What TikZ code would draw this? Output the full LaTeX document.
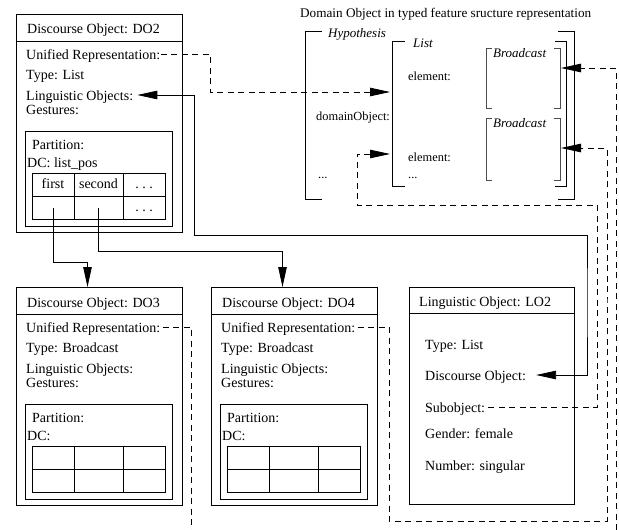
\documentclass[tikz,border=0pt]{standalone}
\usepackage{fontspec}
\setmainfont{Liberation Serif}
\usetikzlibrary{arrows.meta}

\tikzset{
  box/.style={draw,line width=0.8pt},
  brak/.style={line width=0.8pt},
  txt/.style={anchor=base west,inner sep=0pt,font=\fontsize{14}{16}\selectfont,
    text height=12pt,text depth=2pt},
  cell/.style={anchor=center,inner sep=0pt,font=\fontsize{14}{16}\selectfont,
    text height=10pt,text depth=2pt},
  avm/.style={anchor=base west,inner sep=0pt,font=\fontsize{12.4}{14}\selectfont},
  avmtype/.style={anchor=base west,inner sep=0pt,font=\fontsize{13}{15}\selectfont\itshape},
  link/.style={line width=0.8pt},
  dlink/.style={line width=0.8pt,dash pattern=on 6pt off 4.5pt},
  tip/.style={-{Triangle[length=20pt,width=8.5pt]}},
  tips/.style={{Triangle[length=20pt,width=8.5pt]}-{Triangle[length=20pt,width=8.5pt]}},
}

% discourse object box: name, origin, id, type, dc
\newcommand{\discobj}[5]{%
  \begin{scope}[shift={(#2)}]
    \draw[box] (0,0) rectangle (166,218);
    \draw[box] (0,27) -- (166,27);
    \node[txt] (#1t) at (11,20) {Discourse Object: #3};
    \node[txt] (#1ur) at (10,45) {Unified Representation:};
    \node[txt] (#1ty) at (10,65) {Type: #4};
    \node[txt] (#1lo) at (10,86) {Linguistic Objects:};
    \node[txt] (#1ge) at (10,100) {Gestures:};
    % partition and its table
    \draw[box] (9,117) rectangle (156,212);
    \node[txt] (#1pa) at (16,135) {Partition:};
    \node[txt] (#1dc) at (11,153) {DC: #5};
    \draw[box] (16,159) rectangle (149,205);
    \draw[box] (16,182) -- (149,182);
    \foreach \cx in {58,107} \draw[box] (\cx,159) -- (\cx,205);
    \coordinate (#1a1) at (37,170.5);
    \coordinate (#1a2) at (82.5,170.5);
    \coordinate (#1a3) at (128,170.5);
    \coordinate (#1b1) at (37,193.5);
    \coordinate (#1b2) at (82.5,193.5);
    \coordinate (#1b3) at (128,193.5);
    \coordinate (#1in) at (71.5,0);
  \end{scope}}

\begin{document}
\begin{tikzpicture}[x=1pt,y=-1pt]
\useasboundingbox (0,0) rectangle (619,530);

%discourse objects
\discobj{do2}{16,14}{DO2}{List}{list\_pos}
\discobj{do3}{16,287}{DO3}{Broadcast}{}
\discobj{do4}{211,287}{DO4}{Broadcast}{}

\node[cell] (c1) at (do2a1) {first};
\node[cell] (c2) at (do2a2) {second};
\node[cell] (c3) at (do2a3) {.\ .\ .};
\node[cell] (c4) at (do2b3) {.\ .\ .};

%linguistic object
\draw[box] (409,287) rectangle (574,504);
\draw[box] (409,313) -- (574,313);
\node[txt] (lo2t) at (419,306) {Linguistic Object: LO2};
\node[txt] (lo2ty) at (425,349) {Type: List};
\node[txt] (lo2do) at (425,380) {Discourse Object:};
\node[txt] (lo2sub) at (425,412) {Subobject:};
\node[txt] (lo2ge) at (425,438) {Gender: female};
\node[txt] (lo2nu) at (425,470) {Number: singular};

%domain object as feature structure
\node[avm,font=\fontsize{13.2}{15}\selectfont] (dotitle) at (300,17)
  {Domain Object in typed feature sructure representation};

\draw[brak] (322,31) -- (305,31) -- (305,199) -- (322,199); %hypothesis
\draw[brak] (558,31) -- (574,31) -- (574,199) -- (558,199);
\node[avmtype] (hyp) at (328,37) {Hypothesis};
\node[avm] (dobj) at (316,120) {domainObject:};
\node[avm] (hdots) at (318,178) {...};

\draw[brak] (405,41) -- (392,41) -- (392,186) -- (405,186); %list
\draw[brak] (555,41) -- (566,41) -- (566,186) -- (555,186);
\node[avmtype] (lst) at (413,47) {List};
\node[avm] (el1) at (408,80) {element:};
\node[avm] (el2) at (408,161) {element:};
\node[avm] (ldots) at (408,178) {...};

\draw[brak,black!70] (492,48) -- (486,48) -- (486,108) -- (492,108); %broadcasts
\draw[brak,black!70] (554,48) -- (560,48) -- (560,108) -- (554,108);
\node[avmtype] (bc1) at (493,57) {Broadcast};
\draw[brak,black!70] (492,118) -- (486,118) -- (486,180) -- (492,180);
\draw[brak,black!70] (554,118) -- (560,118) -- (560,180) -- (554,180);
\node[avmtype] (bc2) at (493,127) {Broadcast};

\coordinate (lst1) at (390,92);
\coordinate (lst2) at (390,154);
\coordinate (bc1in) at (561,68);
\coordinate (bc2in) at (561,148);
\coordinate (do3out) at (191,530);
\coordinate (bc1src) at (616,530);

%references
\draw[dlink,tip] (do2ur.east) -| (210,75) |- (lst1);
\draw[link,tips,shorten <=4pt,shorten >=10pt] (do2lo.east) -| (194,235)
  -| (587,300) |- (lo2do.east);
\draw[link,tip] (do2b1) |- ([yshift=25pt]do3in) -- (do3in);
\draw[link,tip] (do2b2) |- ([yshift=36pt]do4in) -- (do4in);
\draw[dlink,shorten <=2pt] (do3ur.east) -| (do3out);
\draw[dlink,tip,shorten <=2pt] (do4ur.east) -| (389,521) -| (607,300) |- (bc2in);
\draw[dlink,tip,shorten <=3pt] (lo2sub.east) -| (597,205) -| (357,180) |- (lst2);
\draw[dlink,tip] (bc1src) |- (bc1in);
\end{tikzpicture}
\end{document}
